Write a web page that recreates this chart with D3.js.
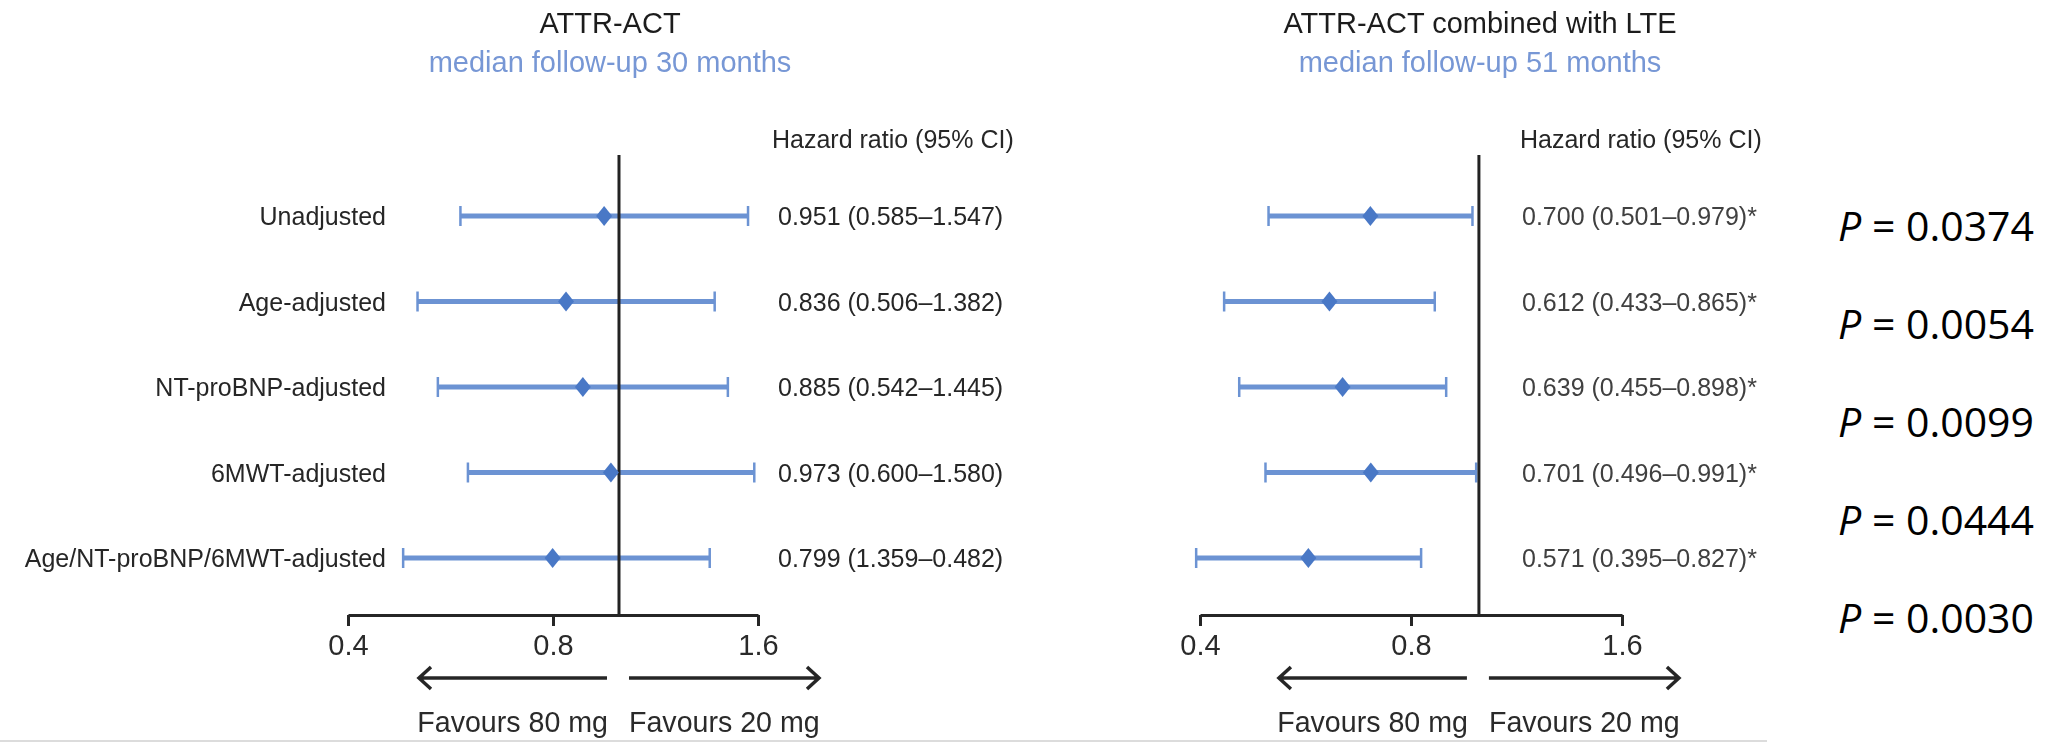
<!DOCTYPE html>
<html>
<head>
<meta charset="utf-8">
<script src="https://cdn.jsdelivr.net/npm/d3@7"></script>
<style>
  html, body { margin: 0; padding: 0; background: #fff; }
  svg { display: block; }
</style>
</head>
<body>
<script>
// Hazard ratios for the 80 mg vs 20 mg comparison, by adjustment model
const rowLabels = [
  "Unadjusted",
  "Age-adjusted",
  "NT-proBNP-adjusted",
  "6MWT-adjusted",
  "Age/NT-proBNP/6MWT-adjusted"
];

// ATTR-ACT (median follow-up 30 months); CI bounds in the order they are printed
const actHR  = [0.951, 0.836, 0.885, 0.973, 0.799];
const actCiA = [0.585, 0.506, 0.542, 0.600, 1.359];
const actCiB = [1.547, 1.382, 1.445, 1.580, 0.482];

// ATTR-ACT combined with LTE (median follow-up 51 months)
const lteHR  = [0.700, 0.612, 0.639, 0.701, 0.571];
const lteCiA = [0.501, 0.433, 0.455, 0.496, 0.395];
const lteCiB = [0.979, 0.865, 0.898, 0.991, 0.827];

const pValues = ["0.0374", "0.0054", "0.0099", "0.0444", "0.0030"];
const tickValues = [0.4, 0.8, 1.6];

const panelTitles = ["ATTR-ACT", "ATTR-ACT combined with LTE"];
const panelSubtitles = ["median follow-up 30 months", "median follow-up 51 months"];

const W = 2050, H = 742;
const FONT = "'Liberation Sans', Arial, Helvetica, sans-serif";
const BLUE_LINE = "#6c93d3";
const BLUE_MARK = "#4a78c6";

const svg = d3.select("body").append("svg")
  .attr("width", W).attr("height", H)
  .attr("viewBox", `0 0 ${W} ${H}`);

svg.append("defs").append("filter")
  .attr("id", "soft")
  .attr("x", "-5%").attr("y", "-5%").attr("width", "110%").attr("height", "110%")
  .append("feGaussianBlur").attr("stdDeviation", 0.7);

const panels = [
  { title: panelTitles[0], subtitle: panelSubtitles[0], hr: actHR, a: actCiA, b: actCiB,
    range: [348, 758], titleX: 610, headerX: 772, textX: 778, star: "", showLabels: true, textFill: "#262626" },
  { title: panelTitles[1], subtitle: panelSubtitles[1], hr: lteHR, a: lteCiA, b: lteCiB,
    range: [1200, 1622], titleX: 1480, headerX: 1520, textX: 1522, star: "*", showLabels: false, textFill: "#404040" }
];

const y = d3.scalePoint().domain(rowLabels).range([216, 558]);
const axisY = 615;
const fmt3 = d3.format(".3f");

const chart = svg.append("g").attr("filter", "url(#soft)");

panels.forEach(p => {
  const x = d3.scaleLog().base(2).domain([0.4, 1.6]).range(p.range);
  const g = chart.append("g");
  const x1 = x(1);

  // Titles
  g.append("text")
    .attr("x", p.titleX).attr("y", 33)
    .attr("text-anchor", "middle")
    .attr("font-family", FONT).attr("font-size", 29)
    .attr("fill", "#1e1e1e")
    .text(p.title);
  g.append("text")
    .attr("x", p.titleX).attr("y", 72)
    .attr("text-anchor", "middle")
    .attr("font-family", FONT).attr("font-size", 29)
    .attr("fill", "#7797d5")
    .text(p.subtitle);

  // Column header
  g.append("text")
    .attr("x", p.headerX).attr("y", 148)
    .attr("font-family", FONT).attr("font-size", 25)
    .attr("fill", "#262626")
    .text("Hazard ratio (95% CI)");

  const rows = rowLabels.map((label, i) => ({
    label,
    hr: p.hr[i],
    lo: Math.min(p.a[i], p.b[i]),
    hi: Math.max(p.a[i], p.b[i]),
    text: `${fmt3(p.hr[i])} (${fmt3(p.a[i])}\u2013${fmt3(p.b[i])})${p.star}`
  }));

  // Row labels (left panel only)
  if (p.showLabels) {
    g.selectAll("text.row-label").data(rows).join("text")
      .attr("class", "row-label")
      .attr("x", 386).attr("y", d => y(d.label) + 9)
      .attr("text-anchor", "end")
      .attr("font-family", FONT).attr("font-size", 25)
      .attr("fill", "#262626")
      .text(d => d.label);
  }

  // Confidence intervals
  g.selectAll("line.ci").data(rows).join("line")
    .attr("class", "ci")
    .attr("x1", d => x(d.lo)).attr("x2", d => x(d.hi))
    .attr("y1", d => y(d.label)).attr("y2", d => y(d.label))
    .attr("stroke", BLUE_LINE).attr("stroke-width", 5);

  rows.forEach(d => {
    [d.lo, d.hi].forEach(v => {
      g.append("line")
        .attr("x1", x(v)).attr("x2", x(v))
        .attr("y1", y(d.label) - 10).attr("y2", y(d.label) + 10)
        .attr("stroke", BLUE_LINE).attr("stroke-width", 2.5);
    });
  });

  // Reference line at HR = 1
  g.append("line")
    .attr("x1", x1).attr("x2", x1)
    .attr("y1", 155).attr("y2", axisY)
    .attr("stroke", "#222").attr("stroke-width", 3);

  // Point estimates
  g.selectAll("path.est").data(rows).join("path")
    .attr("class", "est")
    .attr("d", d => {
      const cx = x(d.hr), cy = y(d.label);
      return `M${cx},${cy - 10}L${cx + 8},${cy}L${cx},${cy + 10}L${cx - 8},${cy}Z`;
    })
    .attr("fill", BLUE_MARK);

  // Estimate text
  g.selectAll("text.est-text").data(rows).join("text")
    .attr("class", "est-text")
    .attr("x", p.textX).attr("y", d => y(d.label) + 9)
    .attr("font-family", FONT).attr("font-size", 25)
    .attr("fill", p.textFill)
    .text(d => d.text);

  // Axis
  const ax = g.append("g")
    .attr("transform", `translate(0,${axisY})`)
    .call(d3.axisBottom(x)
      .tickValues(tickValues)
      .tickFormat(d3.format(".1f"))
      .tickSize(11).tickSizeOuter(0).tickPadding(8));
  ax.select(".domain").attr("stroke", "#262626").attr("stroke-width", 3);
  ax.selectAll(".tick line").attr("stroke", "#262626").attr("stroke-width", 3);
  ax.selectAll(".tick text")
    .attr("font-family", FONT).attr("font-size", 29)
    .attr("fill", "#2b2b2b");
  ax.attr("font-family", null).attr("font-size", null);

  // Direction arrows
  const arrowY = 678;
  const leftEnd = x1 - 12, leftStart = leftEnd - 188;
  const rightStart = x1 + 10, rightEnd = rightStart + 190;
  g.append("path")
    .attr("d", `M${leftEnd},${arrowY}H${leftStart}M${leftStart + 12},${arrowY - 11}L${leftStart},${arrowY}L${leftStart + 12},${arrowY + 11}`)
    .attr("fill", "none").attr("stroke", "#262626").attr("stroke-width", 3.5);
  g.append("path")
    .attr("d", `M${rightStart},${arrowY}H${rightEnd}M${rightEnd - 12},${arrowY - 11}L${rightEnd},${arrowY}L${rightEnd - 12},${arrowY + 11}`)
    .attr("fill", "none").attr("stroke", "#262626").attr("stroke-width", 3.5);

  g.append("text")
    .attr("x", x1 - 11).attr("y", 732)
    .attr("text-anchor", "end")
    .attr("font-family", FONT).attr("font-size", 28.6)
    .attr("fill", "#2b2b2b")
    .text("Favours 80 mg");
  g.append("text")
    .attr("x", x1 + 10).attr("y", 732)
    .attr("font-family", FONT).attr("font-size", 28.6)
    .attr("fill", "#2b2b2b")
    .text("Favours 20 mg");
});

// Thin rule along the bottom of the figure
chart.append("line")
  .attr("x1", 0).attr("x2", 1767)
  .attr("y1", 741).attr("y2", 741)
  .attr("stroke", "#dcdcdc").attr("stroke-width", 2);

// P values
const py = d3.scaleLinear().domain([0, pValues.length - 1]).range([241, 633]);
const pText = svg.selectAll("text.pval").data(pValues).join("text")
  .attr("class", "pval")
  .attr("x", 2034).attr("y", (d, i) => py(i))
  .attr("text-anchor", "end")
  .attr("font-family", "'Open Sans', 'Noto Sans', sans-serif")
  .attr("font-size", 41)
  .attr("fill", "#000");
pText.append("tspan").attr("font-style", "italic").text("P");
pText.append("tspan").text(d => ` = ${d}`);
</script>
</body>
</html>
